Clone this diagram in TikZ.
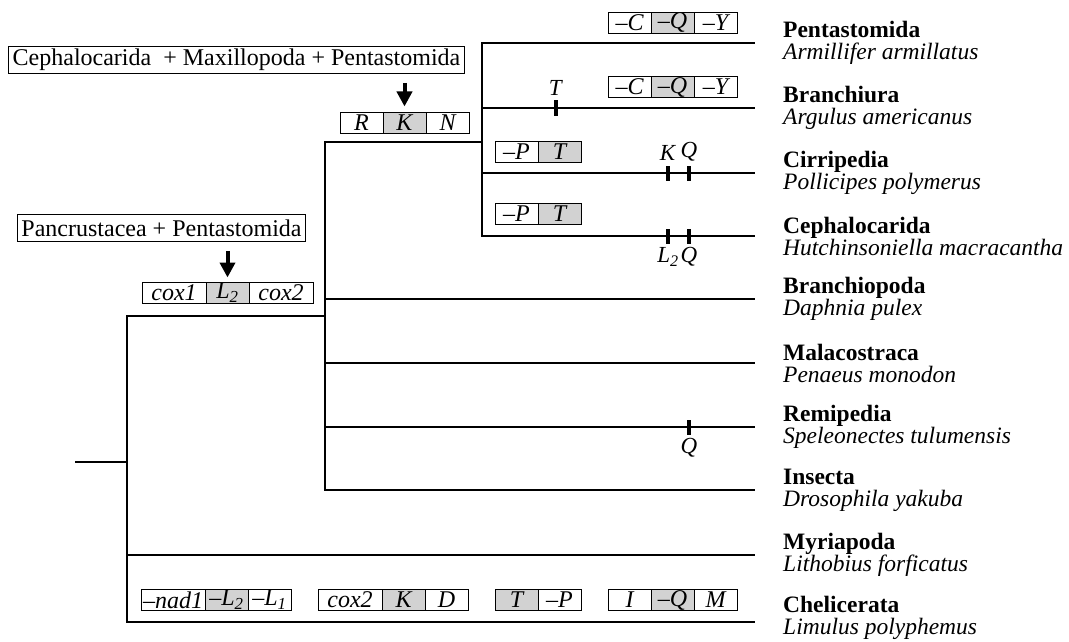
\documentclass[tikz,border=0pt]{standalone}
\usepackage{fontspec}
\setmainfont{Liberation Serif}
\usepackage{tikz}
\usetikzlibrary{arrows.meta,positioning}
\definecolor{CellGray}{RGB}{210,210,210}

\begin{document}
\begin{tikzpicture}[x=1pt, y=-1pt,
    every node/.style={font=\fontsize{23}{23}\selectfont},
    branch/.style={line width=1.7pt},
    cell/.style={draw, line width=0.8pt, minimum width=43pt, minimum height=21pt,
        inner sep=0pt, outer sep=0pt, font=\fontsize{24}{24}\selectfont\itshape},
    wide/.style={minimum width=64pt},
    shade/.style={fill=CellGray},
    clade/.style={draw, line width=0.8pt, minimum height=27pt, inner xsep=4pt, inner ysep=0pt,
        font=\fontsize{24}{24}\selectfont},
    taxon/.style={align=left, inner sep=0pt, font=\fontsize{23.5}{22}\selectfont},
    tick/.style={fill=black, minimum width=3.5pt, minimum height=15pt, inner sep=0pt},
    pointer/.style={-{Triangle[width=15pt,length=15pt]}, line width=4pt}]
\useasboundingbox (0,0) rectangle (1069,642);

% internal nodes
\coordinate (stub) at (75,462);
\coordinate (root) at (127,462);
\coordinate (pan) at (325,316);
\coordinate (cmp) at (482,142);

% branch tips
\coordinate (penT) at (755,43);
\coordinate (braT) at (755,108);
\coordinate (cirT) at (755,173);
\coordinate (cepT) at (755,236);
\coordinate (brpT) at (755,299);
\coordinate (malT) at (755,363);
\coordinate (remT) at (755,427);
\coordinate (insT) at (755,490);
\coordinate (myrT) at (755,555);
\coordinate (cheT) at (755,622);

\node[taxon, right=28pt of penT] (pen) {\textbf{Pentastomida}\\\textit{Armillifer armillatus}};
\node[taxon, right=28pt of braT] (bra) {\textbf{Branchiura}\\\textit{Argulus americanus}};
\node[taxon, right=28pt of cirT] (cir) {\textbf{Cirripedia}\\\textit{Pollicipes polymerus}};
\node[taxon, right=28pt of cepT] (cep) {\textbf{Cephalocarida}\\\textit{Hutchinsoniella macracantha}};
\node[taxon, right=28pt of brpT] (brp) {\textbf{Branchiopoda}\\\textit{Daphnia pulex}};
\node[taxon, right=28pt of malT] (mal) {\textbf{Malacostraca}\\\textit{Penaeus monodon}};
\node[taxon, right=28pt of remT] (rem) {\textbf{Remipedia}\\\textit{Speleonectes tulumensis}};
\node[taxon, right=28pt of insT] (ins) {\textbf{Insecta}\\\textit{Drosophila yakuba}};
\node[taxon, right=28pt of myrT] (myr) {\textbf{Myriapoda}\\\textit{Lithobius forficatus}};
\node[taxon, right=28pt of cheT, yshift=4pt] (che) {\textbf{Chelicerata}\\\textit{Limulus polyphemus}};

\draw[branch] (stub) -- (root);
\draw[branch] (root) |- (pan);
\draw[branch] (root) |- (myrT);
\draw[branch] (root) |- (cheT);
\draw[branch] (pan) |- (cmp);
\draw[branch] (pan) |- (brpT);
\draw[branch] (pan) |- (malT);
\draw[branch] (pan) |- (remT);
\draw[branch] (pan) |- (insT);
\draw[branch] (cmp) |- (penT);
\draw[branch] (cmp) |- (braT);
\draw[branch] (cmp) |- (cirT);
\draw[branch] (cmp) |- (cepT);

% ticks
\node[tick] (braTk) at (556,108) {};
\node[above=1pt of braTk] {\textit{T}};
\node[tick] (cirK) at (668,173) {};
\node[tick] (cirQ) at (689,173) {};
\node[above=1pt of cirK] {\textit{K}};
\node[above=1pt of cirQ] {\textit{Q}};
\node[tick] (cepL) at (668,236) {};
\node[tick] (cepQ) at (689,236) {};
\node[below=0pt of cepL] {\textit{L}\textsubscript{\textit{2}}};
\node[below=0pt of cepQ] {\textit{Q}};
\node[tick] (remQ) at (689,427) {};
\node[below=0pt of remQ] {\textit{Q}};

% character boxes
\node[cell, anchor=west] (pe1) at (608,23) {–C};
\node[cell, shade, right=0pt of pe1] (pe2) {–Q};
\node[cell, right=0pt of pe2] (pe3) {–Y};
\node[cell, anchor=west] (br1) at (608,87) {–C};
\node[cell, shade, right=0pt of br1] (br2) {–Q};
\node[cell, right=0pt of br2] (br3) {–Y};
\node[cell, anchor=west] (ci1) at (495,152) {–P};
\node[cell, shade, right=0pt of ci1] (ci2) {T};
\node[cell, anchor=west] (ce1) at (495,214) {–P};
\node[cell, shade, right=0pt of ce1] (ce2) {T};
\node[cell, anchor=west] (cm1) at (340,123) {R};
\node[cell, shade, right=0pt of cm1] (cm2) {K};
\node[cell, right=0pt of cm2] (cm3) {N};
\node[cell, wide, anchor=west] (pa1) at (142,293) {cox1};
\node[cell, shade, right=0pt of pa1] (pa2) {L\textsubscript{2}};
\node[cell, wide, right=0pt of pa2] (pa3) {cox2};

\node[cell, wide, anchor=west] (ch1) at (141,600) {–nad1};
\node[cell, shade, right=0pt of ch1] (ch2) {–L\textsubscript{2}};
\node[cell, right=0pt of ch2] (ch3) {–L\textsubscript{1}};
\node[cell, wide, anchor=west] (ch4) at (318,600) {cox2};
\node[cell, shade, right=0pt of ch4] (ch5) {K};
\node[cell, right=0pt of ch5] (ch6) {D};
\node[cell, shade, anchor=west] (ch7) at (495,600) {T};
\node[cell, right=0pt of ch7] (ch8) {–P};
\node[cell, anchor=west] (ch9) at (608,600) {I};
\node[cell, shade, right=0pt of ch9] (ch10) {–Q};
\node[cell, right=0pt of ch10] (ch11) {M};

% clade labels
\node[clade] (cmpLab) at (236.5,60) {Cephalocarida~ + Maxillopoda + Pentastomida};
\node[clade] (panLab) at (161.5,228) {Pancrustacea + Pentastomida};
\draw[pointer, shorten <=9pt, shorten >=6pt] (cm2.north |- cmpLab.south) -- (cm2.north);
\draw[pointer, shorten <=9pt, shorten >=5pt] (pa2.north |- panLab.south) -- (pa2.north);
\end{tikzpicture}
\end{document}
